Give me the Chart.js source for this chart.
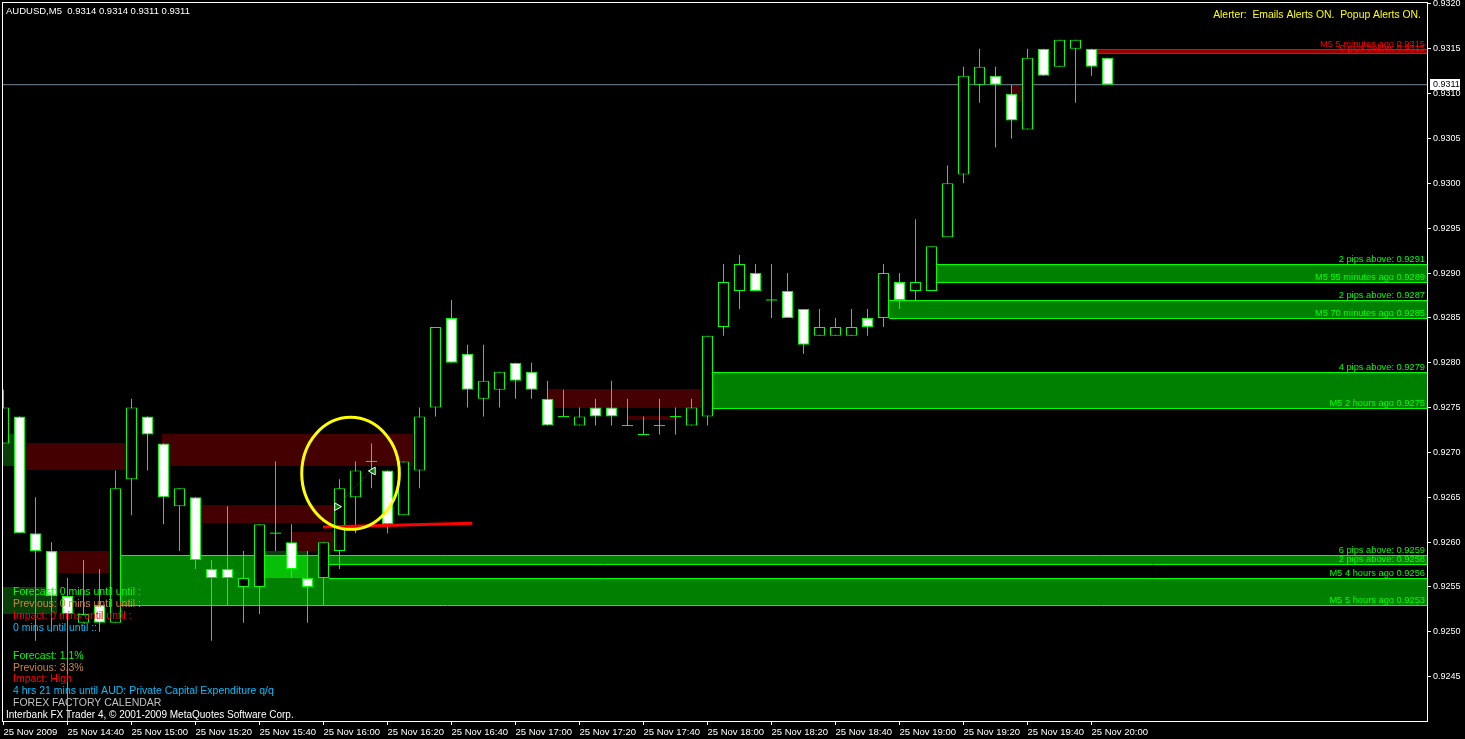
<!DOCTYPE html>
<html lang="en">
<head>
<meta charset="utf-8">
<title>AUDUSD,M5</title>
<style>
  html, body { margin: 0; padding: 0; background: #000; overflow: hidden; }
  canvas { display: block; }
</style>
</head>
<body>
<canvas id="chart" width="1465" height="739"></canvas>
<script src="https://cdn.jsdelivr.net/npm/chart.js@4.4.0/dist/chart.umd.min.js"></script>
<script>
// AUDUSD M5, 25 Nov 2009 - bar 0 is 14:20, one bar every 5 minutes
const opens = [
  0.9271, 0.9274, 0.9261, 0.9259, 0.9254, 0.9251, 0.9253, 0.9251, 0.9267, 0.9274,
  0.9271, 0.9264, 0.9265, 0.9257, 0.9257, 0.9255, 0.9255, 0.9261, 0.9260, 0.9256,
  0.9256, 0.9259, 0.9265, 0.9269, 0.9268, 0.9263, 0.9268, 0.9275, 0.9285, 0.9281,
  0.9276, 0.9277, 0.9280, 0.9279, 0.9276, 0.9274, 0.9273, 0.9275, 0.9275, 0.9273,
  0.9272, 0.9273, 0.9274, 0.9273, 0.9274, 0.9284, 0.9288, 0.9290, 0.9287, 0.9288,
  0.9286, 0.9283, 0.9283, 0.9283, 0.9285, 0.9285, 0.9289, 0.9288, 0.9288, 0.9294,
  0.9301, 0.9311, 0.9312, 0.9310, 0.9306, 0.9315, 0.9313, 0.9315, 0.9315, 0.9314
];
const highs = [
  0.9277, 0.9274, 0.9265, 0.9260, 0.9256, 0.9258, 0.9257, 0.9268, 0.9276, 0.9274,
  0.9271, 0.9266, 0.9265, 0.9258, 0.9264, 0.9259, 0.9262, 0.9269, 0.9262, 0.9259,
  0.9260, 0.9267, 0.9269, 0.9271, 0.9268, 0.9269, 0.9275, 0.9284, 0.9287, 0.9282,
  0.9282, 0.9279, 0.9280, 0.9280, 0.9278, 0.9277, 0.9275, 0.9276, 0.9278, 0.9276,
  0.9274, 0.9276, 0.9275, 0.9276, 0.9283, 0.9291, 0.9292, 0.9291, 0.9291, 0.9290,
  0.9286, 0.9286, 0.9285, 0.9286, 0.9286, 0.9291, 0.9290, 0.9296, 0.9293, 0.9302,
  0.9313, 0.9315, 0.9313, 0.9311, 0.9315, 0.9315, 0.9316, 0.9316, 0.9315, 0.9314
];
const lows = [
  0.9271, 0.9261, 0.9249, 0.9250, 0.9238, 0.9251, 0.9250, 0.9251, 0.9263, 0.9268,
  0.9262, 0.9259, 0.9257, 0.9249, 0.9253, 0.9251, 0.9252, 0.9259, 0.9256, 0.9251,
  0.9253, 0.9257, 0.9261, 0.9266, 0.9261, 0.9263, 0.9266, 0.9274, 0.9280, 0.9275,
  0.9274, 0.9275, 0.9276, 0.9276, 0.9273, 0.9274, 0.9273, 0.9273, 0.9273, 0.9273,
  0.9272, 0.9272, 0.9272, 0.9273, 0.9273, 0.9283, 0.9286, 0.9288, 0.9285, 0.9285,
  0.9281, 0.9283, 0.9283, 0.9283, 0.9283, 0.9284, 0.9286, 0.9287, 0.9288, 0.9294,
  0.9300, 0.9309, 0.9304, 0.9305, 0.9306, 0.9312, 0.9313, 0.9309, 0.9312, 0.9311
];
const closes = [
  0.9275, 0.9261, 0.9259, 0.9254, 0.9252, 0.9252, 0.9251, 0.9266, 0.9275, 0.9272,
  0.9265, 0.9266, 0.9258, 0.9256, 0.9256, 0.9256, 0.9262, 0.9261, 0.9257, 0.9255,
  0.9260, 0.9266, 0.9268, 0.9269, 0.9262, 0.9269, 0.9274, 0.9284, 0.9280, 0.9277,
  0.9278, 0.9279, 0.9278, 0.9277, 0.9273, 0.9274, 0.9274, 0.9274, 0.9274, 0.9273,
  0.9272, 0.9273, 0.9274, 0.9275, 0.9283, 0.9289, 0.9291, 0.9288, 0.9287, 0.9285,
  0.9282, 0.9284, 0.9284, 0.9284, 0.9284, 0.9290, 0.9287, 0.9289, 0.9293, 0.9300,
  0.9312, 0.9313, 0.9311, 0.9307, 0.9314, 0.9312, 0.9316, 0.9316, 0.9313, 0.9311
];

// axis labels
const timeTickBars = [0, 4, 8, 12, 16, 20, 24, 28, 32, 36, 40, 44, 48, 52, 56, 60, 64, 68];
const timeLabels = [
  '25 Nov 2009', '25 Nov 14:40', '25 Nov 15:00', '25 Nov 15:20', '25 Nov 15:40', '25 Nov 16:00',
  '25 Nov 16:20', '25 Nov 16:40', '25 Nov 17:00', '25 Nov 17:20', '25 Nov 17:40', '25 Nov 18:00',
  '25 Nov 18:20', '25 Nov 18:40', '25 Nov 19:00', '25 Nov 19:20', '25 Nov 19:40', '25 Nov 20:00'
];
const priceTicks = [
  0.9245, 0.9250, 0.9255, 0.9260, 0.9265, 0.9270, 0.9275, 0.9280,
  0.9285, 0.9290, 0.9295, 0.9300, 0.9305, 0.9310, 0.9315, 0.9320
];

// supply / demand zones (start bar, top, bottom, labels)
const zoneFrom = [68.34, 58.34, 55.34, 44.34, 7.34, 20.34];
const zoneTop = [0.93150, 0.92910, 0.92870, 0.92790, 0.925857, 0.925757];
const zoneBottom = [0.93145, 0.92890, 0.92850, 0.92750, 0.92530, 0.92560];
const zoneKind = ['sell', 'buy', 'buy', 'buy', 'buy', 'cut'];
const zoneTopText = ['M5 5 minutes ago 0.9315', '2 pips above: 0.9291', '2 pips above: 0.9287',
  '4 pips above: 0.9279', '6 pips above: 0.9259', '2 pips above: 0.9258'];
const zoneBottomText = ['0 pips below: 0.9315', 'M5 55 minutes ago 0.9289', 'M5 70 minutes ago 0.9285',
  'M5 2 hours ago 0.9275', 'M5 5 hours ago 0.9253', 'M5 4 hours ago 0.9256'];

// background rectangles
const shadeFrom = [-0.1, 1.34, 9.9, 12.33, 18.01, 3.33, -0.1, 16.34, 33.97, 38.95, 63.01];
const shadeTo = [1.0, 7.72, 25.59, 20.66, 20.66, 6.66, 3.33, 18.95, 43.66, 42.08, 63.64];
const shadeHigh = [0.92721, 0.92710, 0.92721, 0.92641, 0.92611, 0.92590, 0.92550, 0.92590, 0.92771, 0.92741, 0.93110];
const shadeLow = [0.92685, 0.92680, 0.92685, 0.92621, 0.92590, 0.92566, 0.92520, 0.92560, 0.92750, 0.92736, 0.93091];
const shadeKind = ['green', 'red', 'red', 'red', 'red', 'red', 'green', 'green', 'red', 'red', 'red'];

// trend line, trade and ellipse objects
const trendBars = [19.97, 29.3];
const trendPrices = [0.92617, 0.92621];
const tradeBars = [20.84, 23.09];
const tradePrices = [0.926395, 0.926793];
const tradePathBars = [21.34, 22.8];
const tradePathPrices = [0.926489, 0.926768];
const ellipseBars = [18.64, 24.74];
const ellipsePrices = [0.927392, 0.926143];

// on-chart text
const calendarNow = ['Forecast: 0 mins until until :', 'Previous: 0 mins until until :',
  'Impact: 0 mins until until :', '0 mins until until ::'];
const calendarNext = ['Forecast: 1.1%', 'Previous: 3.3%', 'Impact: High',
  '4 hrs 21 mins until AUD: Private Capital Expenditure q/q', 'FOREX FACTORY CALENDAR'];
const calendarColors = ['#00ff00', '#cd853f', '#ff0000', '#00bfff', '#c0c0c0'];
const alerterText = 'Alerter:  Emails Alerts ON.  Popup Alerts ON.';
const copyrightText = 'Interbank FX Trader 4, \u00a9 2001-2009 MetaQuotes Software Corp.';

const FONT = '"Liberation Sans", Arial, sans-serif';
const LIME = '#00ff00';
const X_MIN = -0.09375, X_MAX = 88.96875;
const Y_MIN = 0.924006, Y_MAX = 0.932022;
const last = closes.length - 1;
const bid = closes[last];

// candles: wicks, bodies, and dojis
const wicks = [], bodies = [], bodyFill = [], dojis = [];
opens.forEach((o, i) => {
  wicks.push({ x: i, y: [lows[i], highs[i]] });
  if (o === closes[i]) {
    dojis.push({ x: i, y: o });
  } else {
    bodies.push({ x: i, y: [Math.min(o, closes[i]), Math.max(o, closes[i])] });
    bodyFill.push(closes[i] < o ? '#ffffff' : '#000000');
  }
});

const fills = { sell: '#990000', buy: '#008000', cut: '#000000' };
const shadeColors = { red: '#440000', green: '#083f08' };

const mt4Objects = {
  id: 'mt4Objects',
  beforeDraw(chart) {
    const { ctx, width, height } = chart;
    ctx.save();
    ctx.fillStyle = '#000';
    ctx.fillRect(0, 0, width, height);
    ctx.restore();
  },
  beforeDatasetsDraw(chart) {
    const { ctx, chartArea: a, scales: { x, y } } = chart;
    ctx.save();
    ctx.beginPath();
    ctx.rect(a.left, a.top, a.right - a.left, a.bottom - a.top);
    ctx.clip();
    // zone fills
    zoneFrom.forEach((f, k) => {
      const x0 = Math.round(x.getPixelForValue(f));
      const y0 = Math.round(y.getPixelForValue(zoneTop[k]));
      const y1 = Math.round(y.getPixelForValue(zoneBottom[k]));
      ctx.fillStyle = fills[zoneKind[k]];
      ctx.fillRect(x0, y0, a.right - x0, y1 - y0);
    });
    // shaded rectangles mix with what is underneath
    ctx.globalCompositeOperation = 'lighter';
    shadeFrom.forEach((f, k) => {
      const x0 = Math.round(x.getPixelForValue(f));
      const x1 = Math.round(x.getPixelForValue(shadeTo[k]));
      const y0 = Math.round(y.getPixelForValue(shadeHigh[k]));
      const y1 = Math.round(y.getPixelForValue(shadeLow[k]));
      ctx.fillStyle = shadeColors[shadeKind[k]];
      ctx.fillRect(x0, y0, x1 - x0, y1 - y0);
    });
    ctx.globalCompositeOperation = 'source-over';
    // zone edges
    ctx.lineWidth = 1;
    zoneFrom.forEach((f, k) => {
      const x0 = Math.round(x.getPixelForValue(f));
      ctx.strokeStyle = zoneKind[k] === 'sell' ? '#ff0000' : LIME;
      [zoneTop[k], zoneBottom[k]].forEach(p => {
        const py = Math.round(y.getPixelForValue(p)) + 0.5;
        ctx.beginPath();
        ctx.moveTo(x0, py);
        ctx.lineTo(a.right, py);
        ctx.stroke();
      });
    });
    ctx.restore();
  },
  afterDatasetsDraw(chart) {
    const { ctx, chartArea: a, scales: { x, y } } = chart;
    ctx.save();
    ctx.beginPath();
    ctx.rect(a.left, a.top, a.right - a.left, a.bottom - a.top);
    ctx.clip();

    // ellipse
    const ex0 = x.getPixelForValue(ellipseBars[0]), ex1 = x.getPixelForValue(ellipseBars[1]);
    const ey0 = y.getPixelForValue(ellipsePrices[0]), ey1 = y.getPixelForValue(ellipsePrices[1]);
    ctx.strokeStyle = '#ffff00';
    ctx.lineWidth = 3;
    ctx.beginPath();
    ctx.ellipse((ex0 + ex1) / 2, (ey0 + ey1) / 2, (ex1 - ex0) / 2, (ey1 - ey0) / 2, 0, 0, Math.PI * 2);
    ctx.stroke();

    // zone labels
    ctx.font = '9.3px ' + FONT;
    ctx.textAlign = 'right';
    ctx.textBaseline = 'alphabetic';
    zoneFrom.forEach((f, k) => {
      ctx.fillStyle = zoneKind[k] === 'sell' ? '#ff0000' : LIME;
      ctx.fillText(zoneTopText[k], a.right - 2, Math.round(y.getPixelForValue(zoneTop[k])) - 2);
      ctx.fillText(zoneBottomText[k], a.right - 2, Math.round(y.getPixelForValue(zoneBottom[k])) - 2);
    });

    // header and alerter
    ctx.font = '9.5px ' + FONT;
    ctx.textBaseline = 'middle';
    ctx.textAlign = 'left';
    ctx.fillStyle = '#ffffff';
    ctx.fillText('AUDUSD,M5  ' + [opens[last], highs[last], lows[last], closes[last]].map(v => v.toFixed(4)).join(' '), 6, 11);
    ctx.font = '10.4px ' + FONT;
    ctx.textAlign = 'right';
    ctx.fillStyle = '#ffff00';
    ctx.fillText(alerterText, 1421, 15);

    // calendar panel
    ctx.font = '10.5px ' + FONT;
    ctx.textAlign = 'left';
    calendarNow.forEach((t, k) => {
      ctx.fillStyle = calendarColors[k];
      ctx.fillText(t, 13, 592 + k * 11.9);
    });
    calendarNext.forEach((t, k) => {
      ctx.fillStyle = calendarColors[k];
      ctx.fillText(t, 13, 656 + k * 11.8);
    });
    ctx.font = '10px ' + FONT;
    ctx.fillStyle = '#ffffff';
    ctx.fillText(copyrightText, 6, 715);
    ctx.restore();

    // current price tag on the axis
    const py = Math.round(y.getPixelForValue(bid));
    ctx.save();
    ctx.fillStyle = '#ffffff';
    ctx.fillRect(a.right + 3, py - 6, 30, 11);
    ctx.fillStyle = '#000000';
    ctx.font = '9px ' + FONT;
    ctx.textBaseline = 'middle';
    ctx.textAlign = 'left';
    ctx.fillText(bid.toFixed(4), a.right + 6, py);
    // frame
    ctx.strokeStyle = '#ffffff';
    ctx.lineWidth = 1;
    ctx.strokeRect(a.left + 0.5, a.top + 0.5, a.right - a.left, a.bottom - a.top);
    ctx.restore();
  }
};

new Chart(document.getElementById('chart'), {
  type: 'bar',
  data: {
    datasets: [
      {
        type: 'line', data: [{ x: X_MIN, y: bid }, { x: X_MAX, y: bid }],
        borderColor: '#778899', borderWidth: 1, pointRadius: 0, order: 6, clip: 0
      },
      {
        data: wicks, backgroundColor: LIME, barThickness: 1, inflateAmount: 0,
        grouped: false, order: 5, clip: 0
      },
      {
        data: bodies, backgroundColor: bodyFill, borderColor: LIME, borderWidth: 1,
        borderSkipped: false, barThickness: 11, inflateAmount: 0, grouped: false, order: 4, clip: 0
      },
      {
        type: 'scatter', data: dojis, pointStyle: 'line', pointRadius: 5.5,
        pointBorderColor: LIME, pointBorderWidth: 1, order: 4, clip: 0
      },
      {
        type: 'line', data: trendBars.map((b, k) => ({ x: b, y: trendPrices[k] })),
        borderColor: '#ff0000', borderWidth: 3, pointRadius: 0, order: 3, clip: 0
      },
      {
        type: 'line', data: tradePathBars.map((b, k) => ({ x: b, y: tradePathPrices[k] })),
        borderColor: '#00a000', borderWidth: 1, borderDash: [1, 2], pointRadius: 0, order: 2, clip: 0
      },
      {
        type: 'scatter', data: [{ x: tradeBars[0], y: tradePrices[0] }],
        pointStyle: 'triangle', pointRotation: 90, pointRadius: 4.5,
        pointBackgroundColor: '#008000', pointBorderColor: '#ffffff', pointBorderWidth: 1, order: 1, clip: 0
      },
      {
        type: 'scatter', data: [{ x: tradeBars[1], y: tradePrices[1] }],
        pointStyle: 'triangle', pointRotation: -90, pointRadius: 4.5,
        pointBackgroundColor: '#008000', pointBorderColor: '#ffffff', pointBorderWidth: 1, order: 1, clip: 0
      }
    ]
  },
  options: {
    responsive: false,
    animation: false,
    events: [],
    layout: { autoPadding: false, padding: { left: 2, top: 2, right: 0, bottom: 0 } },
    plugins: { legend: { display: false }, tooltip: { enabled: false } },
    scales: {
      x: {
        type: 'linear', min: X_MIN, max: X_MAX, offset: false,
        afterFit(s) { s.height = 18; s.paddingLeft = 0; s.paddingRight = 0; },
        afterBuildTicks(s) { s.ticks = timeTickBars.map(v => ({ value: v })); },
        grid: { display: true, drawOnChartArea: false, drawTicks: true, tickLength: 4, tickColor: '#ffffff', offset: false },
        border: { display: true, color: '#ffffff' },
        ticks: {
          color: '#ffffff', font: { family: FONT, size: 9.5 }, padding: 2, align: 'start',
          autoSkip: false, maxRotation: 0, callback: (v, i) => timeLabels[i]
        }
      },
      y: {
        type: 'linear', position: 'right', min: Y_MIN, max: Y_MAX,
        afterFit(s) { s.width = 38; s.paddingTop = 0; s.paddingBottom = 0; },
        afterBuildTicks(s) { s.ticks = priceTicks.map(v => ({ value: v })); },
        grid: { display: true, drawOnChartArea: false, drawTicks: true, tickLength: 4, tickColor: '#ffffff' },
        border: { display: true, color: '#ffffff' },
        ticks: { color: '#ffffff', font: { family: FONT, size: 9 }, padding: 2, callback: v => v.toFixed(4) }
      }
    }
  },
  plugins: [mt4Objects]
});
</script>
</body>
</html>
